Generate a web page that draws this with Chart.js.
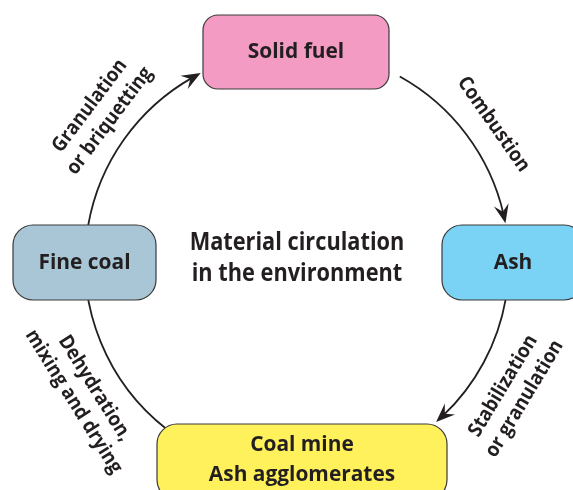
<!DOCTYPE html>
<html>
<head>
<meta charset="utf-8">
<script src="https://cdn.jsdelivr.net/npm/chart.js@4/dist/chart.umd.min.js"></script>
<style>
html,body{margin:0;padding:0;background:#fff;}
#wrap{width:573px;height:490px;}
</style>
</head>
<body>
<div id="wrap"><canvas id="c" width="573" height="490"></canvas></div>
<script>
// ---- data ----
const nodeLabels = [["Solid fuel"], ["Ash"], ["Coal mine", "Ash agglomerates"], ["Fine coal"]];
const nodeX = [296, 513, 302, 84.5];
const nodeY = [52, 262.5, 462, 262.5];
const cycleCenter = [297, 262];
const cycleRadius = 212;
const arcStartDeg = [61, -10, -128, 170];
const arcEndDeg = [10.5, -49, -190, 117];
const arcLabels = [["Combustion"], ["Stabilization", "or granulation"], ["Dehydration,", "mixing and drying"], ["Granulation", "or briquetting"]];
const arcLabelDeg = [35, -31, -148, 143];
const arcLabelRadius = [240, 253, 251, 247];
const centerTitle = ["Material circulation", "in the environment"];

// ---- styles ----
const nodeColors = ["#F39BC3", "#7AD3F5", "#FFF15B", "#A9C6D6"];
const nodeW = [186, 142, 290, 143];
const nodeH = [74, 75, 76, 75];
const nodeR = [15, 20, 20, 20];
const ink = "#231F20";
const FONT = "'Open Sans', Lato, sans-serif";

function squeezedText(ctx, t, x, y, sx) {
  ctx.save();
  ctx.translate(x, y);
  ctx.scale(sx, 1);
  ctx.fillText(t, 0, 0);
  ctx.restore();
}

const diagram = {
  id: 'diagram',
  afterDatasetsDraw(chart) {
    const ctx = chart.ctx;
    const xs = chart.scales.x, ys = chart.scales.y;
    const cx = xs.getPixelForValue(cycleCenter[0]);
    const cy = ys.getPixelForValue(cycleCenter[1]);
    const r = xs.getPixelForValue(cycleCenter[0] + cycleRadius) - cx;
    const pt = (deg, rad) => [cx + rad * Math.cos(deg * Math.PI / 180), cy - rad * Math.sin(deg * Math.PI / 180)];
    ctx.save();
    // arcs with arrowheads
    ctx.strokeStyle = ink; ctx.fillStyle = ink; ctx.lineWidth = 1.8;
    for (let i = 0; i < arcStartDeg.length; i++) {
      const a0 = arcStartDeg[i], a1 = arcEndDeg[i];
      const shorten = 9 / r * 180 / Math.PI;
      ctx.beginPath();
      ctx.arc(cx, cy, r, -a0 * Math.PI / 180, -(a1 + shorten) * Math.PI / 180, false);
      ctx.stroke();
      const [tx, ty] = pt(a1, r);
      const back = 16 / r * 180 / Math.PI;
      const [bx, by] = pt(a1 + back, r);
      const dx = tx - bx, dy = ty - by, L = Math.hypot(dx, dy);
      const ux = dx / L, uy = dy / L, px = -uy, py = ux;
      ctx.beginPath();
      ctx.moveTo(tx, ty);
      ctx.lineTo(tx - ux * 19 + px * 7.5, ty - uy * 19 + py * 7.5);
      ctx.lineTo(tx - ux * 12, ty - uy * 12);
      ctx.lineTo(tx - ux * 19 - px * 7.5, ty - uy * 19 - py * 7.5);
      ctx.closePath();
      ctx.fill();
    }
    // nodes
    const meta = chart.getDatasetMeta(0);
    meta.data.forEach((el, i) => {
      const w = nodeW[i], h = nodeH[i];
      const x0 = el.x - w / 2, y0 = el.y - h / 2;
      ctx.beginPath();
      ctx.roundRect(x0, y0, w, h, nodeR[i]);
      ctx.fillStyle = nodeColors[i];
      ctx.fill();
      ctx.lineWidth = 1.2;
      ctx.strokeStyle = "#3b3a3a";
      ctx.stroke();
      ctx.fillStyle = ink;
      ctx.font = "bold 22px " + FONT;
      ctx.textAlign = "center";
      ctx.textBaseline = "middle";
      const lines = nodeLabels[i];
      const lh = 30;
      lines.forEach((t, k) => {
        const yy = lines.length > 1 ? el.y - 17 + k * lh : el.y;
        squeezedText(ctx, t, el.x, yy, 0.95);
      });
    });
    // arc labels
    ctx.fillStyle = ink;
    ctx.font = "bold 20px " + FONT;
    ctx.textAlign = "center";
    ctx.textBaseline = "middle";
    for (let i = 0; i < arcLabels.length; i++) {
      const d = arcLabelDeg[i];
      const rr = xs.getPixelForValue(cycleCenter[0] + arcLabelRadius[i]) - cx;
      const [lx, ly] = pt(d, rr);
      const rot = (d > 0 ? 90 - d : -90 - d) * Math.PI / 180;
      ctx.save();
      ctx.translate(lx, ly);
      ctx.rotate(rot);
      const lines = arcLabels[i];
      const lh = 25;
      lines.forEach((t, k) => {
        squeezedText(ctx, t, 0, (k - (lines.length - 1) / 2) * lh, 0.92);
      });
      ctx.restore();
    }
    // centre title
    ctx.font = "bold 25px " + FONT;
    ctx.textBaseline = "alphabetic";
    centerTitle.forEach((t, k) => squeezedText(ctx, t, cx, 250 + k * 31, 0.87));
    ctx.restore();
  }
};

new Chart(document.getElementById('c'), {
  type: 'scatter',
  data: {
    datasets: [{
      data: nodeX.map((x, i) => ({ x: x, y: nodeY[i] })),
      pointRadius: 0,
      pointHoverRadius: 0
    }]
  },
  options: {
    responsive: false,
    animation: false,
    events: [],
    layout: { padding: 0 },
    scales: {
      x: { type: 'linear', min: 0, max: 573, display: false },
      y: { type: 'linear', min: 0, max: 490, reverse: true, display: false }
    },
    plugins: { legend: { display: false }, tooltip: { enabled: false } }
  },
  plugins: [diagram]
});
</script>
</body>
</html>
